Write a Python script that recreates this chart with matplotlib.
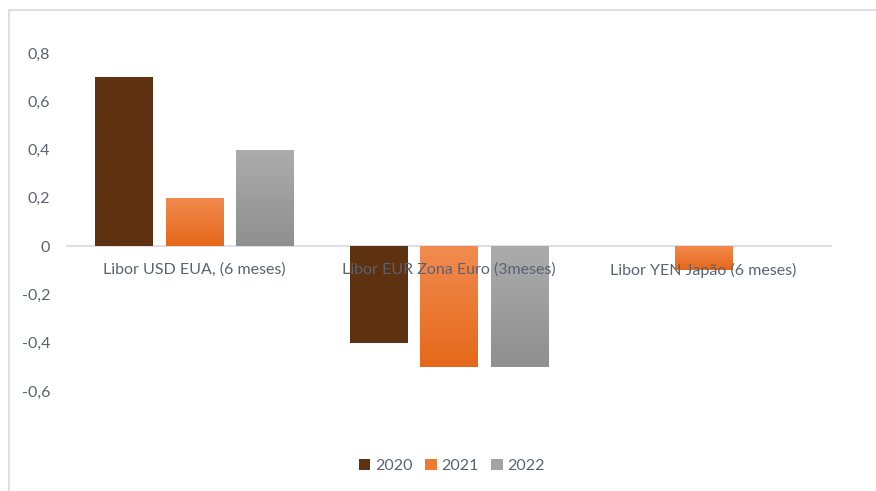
import matplotlib
matplotlib.use("Agg")
import matplotlib.pyplot as plt
import numpy as np
from matplotlib.colors import LinearSegmentedColormap
from matplotlib.lines import Line2D
from matplotlib.patches import Patch

categories = ["Libor USD EUA, (6 meses)", "Libor EUR Zona Euro (3meses)", "Libor YEN Japão (6 meses)"]
series_names = ["2020", "2021", "2022"]
values_2020 = [0.7, -0.4, 0.0]
values_2021 = [0.2, -0.5, -0.1]
values_2022 = [0.4, -0.5, 0.0]
y_ticks = [-0.6, -0.4, -0.2, 0.0, 0.2, 0.4, 0.6, 0.8]
y_tick_labels = ["-0,6", "-0,4", "-0,2", "0", "0,2", "0,4", "0,6", "0,8"]

plt.rcParams['font.family'] = ['Lato', 'DejaVu Sans']
text_color = '#5a6272'
frame_color = '#dde1e7'

fig = plt.figure(figsize=(8.76, 4.91), dpi=100)
ax = fig.add_axes([67/876, 1-391/491, 764/876, 338/491])

# gradients: (top color, bottom color)
grads = [
    ('#5e3210', '#5e3210'),
    ('#f28b50', '#e5681a'),
    ('#acacac', '#8f8f8f'),
]
legend_colors = ['#5e3210', '#ee7a33', '#a3a3a3']

x = np.arange(len(categories))
width = 0.224
offset = 0.277
all_vals = [values_2020, values_2021, values_2022]
for i, vals in enumerate(all_vals):
    bars = ax.bar(x + (i - 1) * offset, vals, width, color='none', edgecolor='none', zorder=1)
    cmap = LinearSegmentedColormap.from_list('g%d' % i, [grads[i][1], grads[i][0]])
    for b in bars:
        h = b.get_height()
        if h == 0:
            continue
        x0 = b.get_x()
        x1 = x0 + b.get_width()
        y0 = b.get_y()
        y1 = y0 + h
        lo, hi = min(y0, y1), max(y0, y1)
        grad = np.linspace(0, 1, 256).reshape(-1, 1)
        im = ax.imshow(grad, cmap=cmap, origin='lower', extent=[x0, x1, lo, hi],
                       aspect='auto', zorder=1, interpolation='bilinear')
        im.set_clip_path(b)

ax.set_xlim(-0.5, 2.5)
ax.set_ylim(-0.6, 0.8)
for s in ['top', 'right', 'left']:
    ax.spines[s].set_visible(False)
ax.spines['bottom'].set_position(('data', 0))
ax.spines['bottom'].set_color(frame_color)
ax.spines['bottom'].set_linewidth(1.5)
ax.spines['bottom'].set_zorder(0.5)

ax.set_xticks(x)
ax.set_xticklabels(categories)
ax.set_yticks(y_ticks)
ax.set_yticklabels(y_tick_labels)
ax.tick_params(axis='x', length=0, pad=12, labelsize=11.5, labelcolor=text_color)
ax.tick_params(axis='y', length=0, pad=12, labelsize=11.5, labelcolor=text_color)
ax.xaxis.set_zorder(2)

handles = [Patch(facecolor=c, edgecolor='none') for c in legend_colors]
fig.legend(handles, series_names, loc='center', bbox_to_anchor=(452/876, 1-466/491),
           ncol=3, frameon=False, fontsize=11.5, labelcolor=text_color,
           handlelength=0.7, handleheight=0.7, handletextpad=0.3, columnspacing=0.8)

fig.add_artist(Line2D([9/876, 1.0], [1-10/491, 1-10/491], transform=fig.transFigure,
                      color=frame_color, linewidth=1.5))
fig.add_artist(Line2D([9/876, 9/876], [0, 1-10/491], transform=fig.transFigure,
                      color=frame_color, linewidth=1.5))

fig.savefig('out.png', dpi=100)
